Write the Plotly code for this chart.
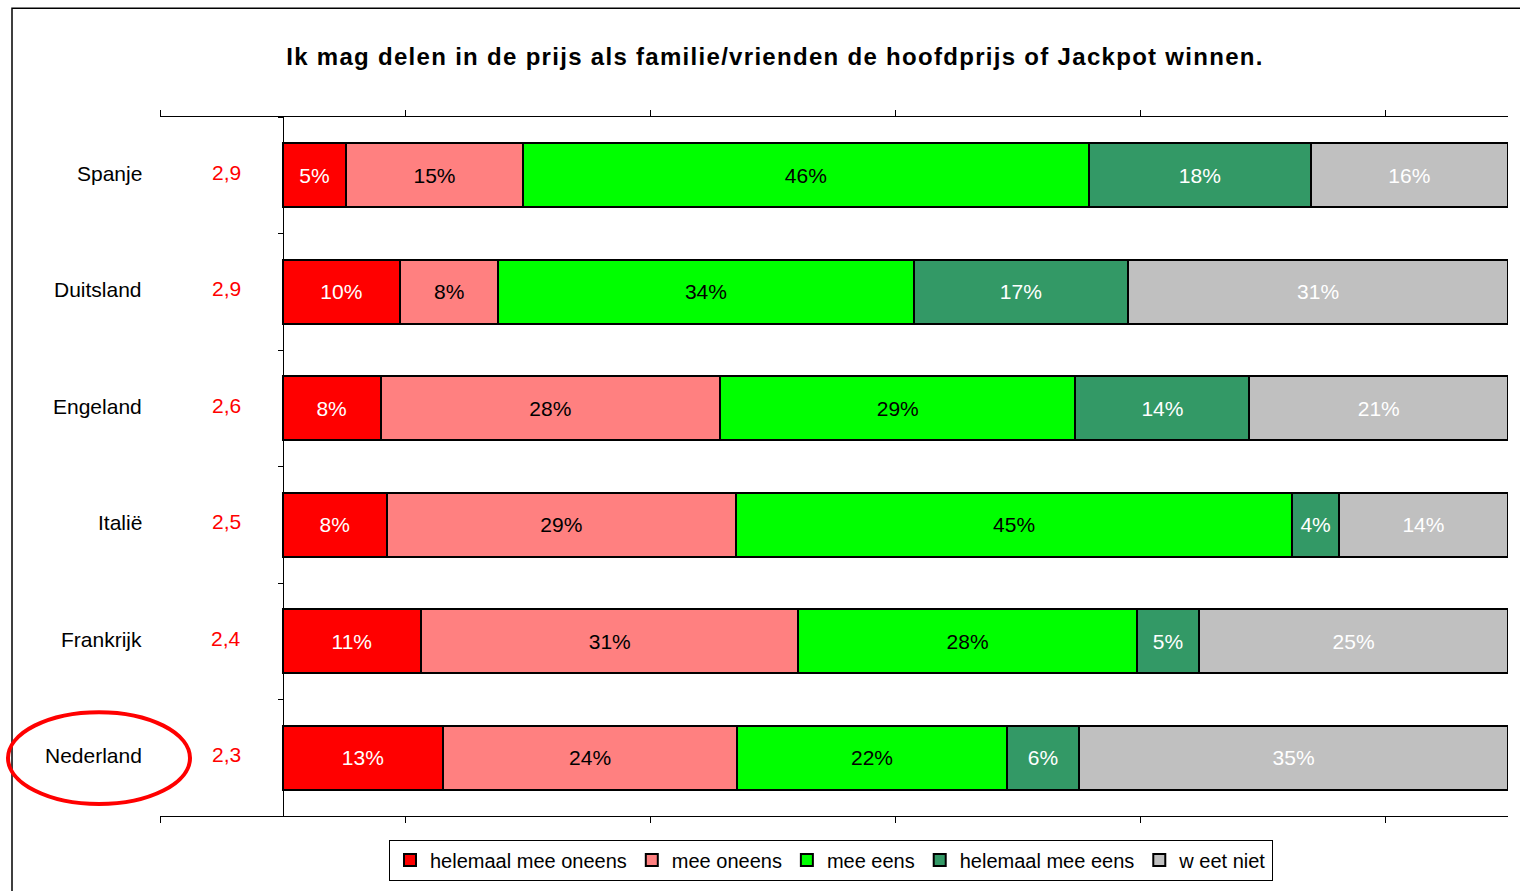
import plotly.graph_objects as go

# ---- data ----
countries = ["Spanje", "Duitsland", "Engeland", "Italië", "Frankrijk", "Nederland"]
scores = ["2,9", "2,9", "2,6", "2,5", "2,4", "2,3"]
series_names = ["helemaal mee oneens", "mee oneens", "mee eens", "helemaal mee eens", "w eet niet"]

helemaal_mee_oneens = [5.2, 9.6, 8.0, 8.5, 11.3, 13.1]
mee_oneens = [14.4, 8.0, 27.7, 28.5, 30.8, 24.0]
mee_eens = [46.2, 33.9, 29.0, 45.4, 27.6, 22.0]
helemaal_mee_eens = [18.1, 17.5, 14.2, 3.8, 5.1, 5.9]
weet_niet = [16.1, 31.0, 21.1, 13.8, 25.2, 35.0]

labels_helemaal_mee_oneens = ["5%", "10%", "8%", "8%", "11%", "13%"]
labels_mee_oneens = ["15%", "8%", "28%", "29%", "31%", "24%"]
labels_mee_eens = ["46%", "34%", "29%", "45%", "28%", "22%"]
labels_helemaal_mee_eens = ["18%", "17%", "14%", "4%", "5%", "6%"]
labels_weet_niet = ["16%", "31%", "21%", "14%", "25%", "35%"]

title_text = "Ik mag delen in de prijs als familie/vrienden de hoofdprijs of Jackpot winnen."

values = [helemaal_mee_oneens, mee_oneens, mee_eens, helemaal_mee_eens, weet_niet]
labels = [labels_helemaal_mee_oneens, labels_mee_oneens, labels_mee_eens,
          labels_helemaal_mee_eens, labels_weet_niet]
colors = ["#FF0000", "#FF8080", "#00FF00", "#339966", "#C0C0C0"]
text_colors = ["white", "black", "black", "white", "white"]

FONT = "Liberation Sans, Arial, sans-serif"

fig = go.Figure()
for name, vals, labs, col, tcol in zip(series_names, values, labels, colors, text_colors):
    fig.add_trace(go.Bar(
        y=countries, x=vals, name=name, orientation="h",
        marker=dict(color=col, line=dict(color="black", width=2)),
        text=labs, textposition="inside", insidetextanchor="middle",
        textangle=0, constraintext="none",
        insidetextfont=dict(family=FONT, size=21, color=tcol),
        hoverinfo="skip",
    ))

# plot area pixel geometry
W, H = 1520, 891
L, R, T, B = 160, 12, 117, 74
xmin, xmax = -10, 100
yaxis_pos = (0 - xmin) / (xmax - xmin)

pw, ph = W - L - R, H - T - B
def px(xp):
    return (xp - L) / pw
def py(yp):
    return (H - B - yp) / ph

annotations = []
for c, s in zip(countries, scores):
    annotations.append(dict(x=px(144), y=c, xref="paper", yref="y", yshift=2,
                            text=c, showarrow=False, xanchor="right",
                            font=dict(family=FONT, size=21, color="black")))
    annotations.append(dict(x=px(226), y=c, xref="paper", yref="y", yshift=3,
                            text=s, showarrow=False, xanchor="center",
                            font=dict(family=FONT, size=21, color="#FF0000")))

shapes = [
    # outer frame
    dict(type="rect", xref="paper", yref="paper", x0=px(12), x1=px(1540),
         y0=py(910), y1=py(8), line=dict(color="black", width=1.5), layer="below"),
    # highlight ellipse
    dict(type="circle", xref="paper", yref="paper", x0=px(8), x1=px(190),
         y0=py(805), y1=py(713), line=dict(color="#FF0000", width=4)),
]

fig.update_layout(
    width=W, height=H,
    margin=dict(l=L, r=R, t=T, b=B),
    barmode="stack", bargap=0.45,
    plot_bgcolor="white", paper_bgcolor="white",
    font=dict(family=FONT, size=21, color="black"),
    title=dict(text='<span style="letter-spacing:1.3px">' + title_text + '</span>',
               x=775 / W, xanchor="center", y=1 - 57 / H, yanchor="middle",
               xref="container", yref="container",
               font=dict(family=FONT, size=24, color="black", weight="bold")),
    xaxis=dict(range=[xmin, xmax], tickvals=[-10, 10, 30, 50, 70, 90],
               showticklabels=False, showgrid=False, zeroline=False,
               showline=True, linecolor="black", linewidth=1,
               ticks="outside", ticklen=6, tickcolor="black", mirror="ticks"),
    xaxis2=dict(range=[xmin, xmax], tickvals=[-10, 10, 30, 50, 70, 90], overlaying="x",
                anchor="y", side="bottom", showticklabels=False, showgrid=False,
                zeroline=False, showline=False, ticks="inside", ticklen=6,
                tickcolor="black", matches="x"),
    yaxis=dict(type="category", categoryorder="array", categoryarray=countries,
               range=[5.5, -0.5], showticklabels=False, showgrid=False, zeroline=False,
               showline=True, linecolor="black", linewidth=1,
               ticks="outside", ticklen=5, tickcolor="black", tickson="boundaries",
               anchor="free", position=yaxis_pos),
    legend=dict(orientation="h", x=px(831), xanchor="center", y=py(860), yanchor="middle",
                bordercolor="black", borderwidth=1, bgcolor="white",
                font=dict(family=FONT, size=20, color="black"),
                traceorder="normal", itemsizing="constant"),
    annotations=annotations,
    shapes=shapes,
)

fig.write_html("out.html", config={"displayModeBar": False},
               post_script="document.body.style.margin='0';document.body.style.overflow='hidden';")
